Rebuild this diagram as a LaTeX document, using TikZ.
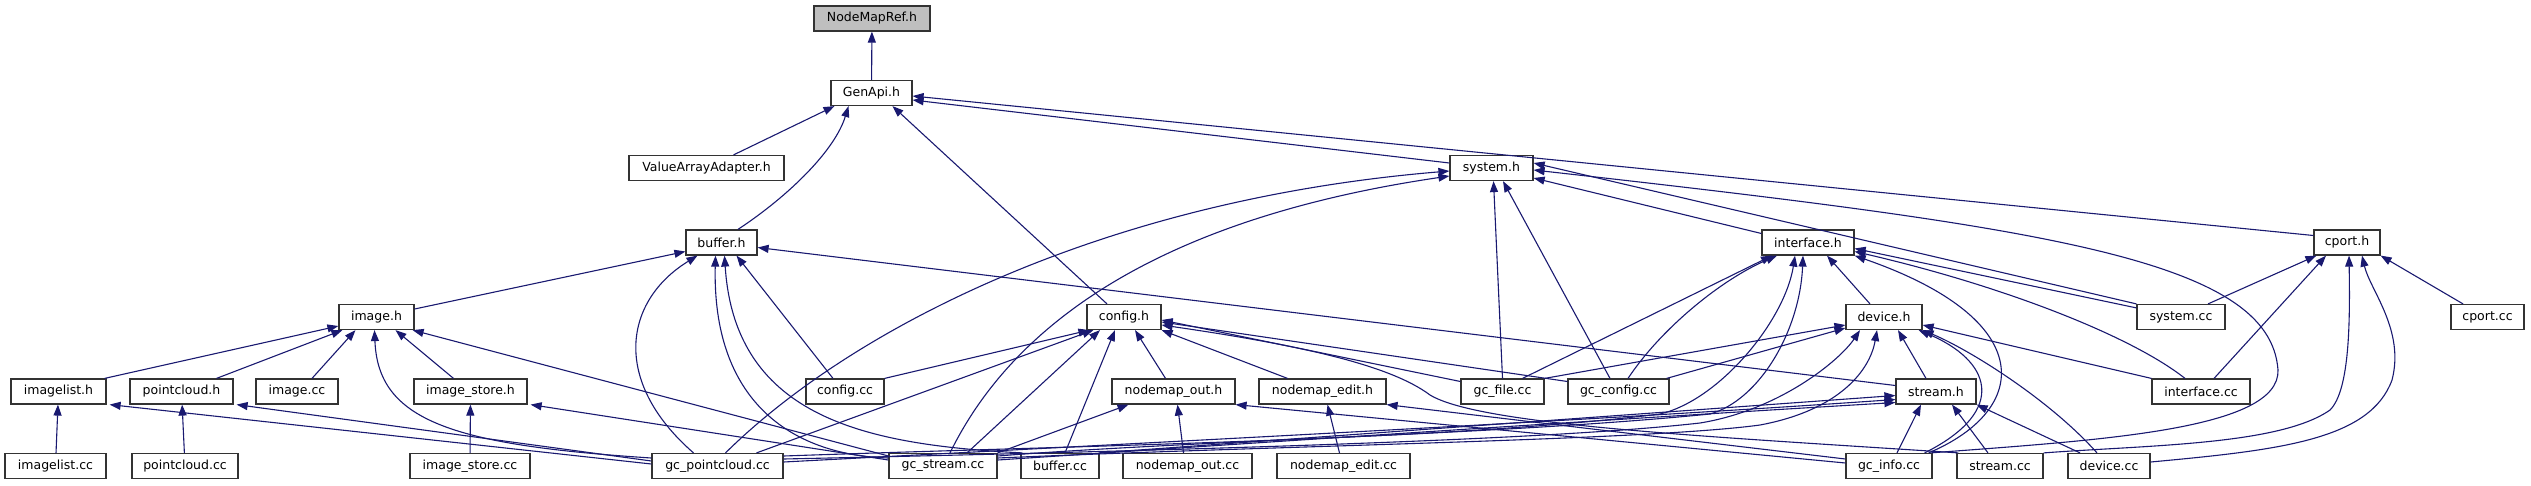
\documentclass[tikz,border=0pt]{standalone}
\usepackage{fontspec}
\setmainfont{DejaVu Sans}
\usetikzlibrary{arrows.meta}
\definecolor{edgec}{HTML}{191970}
\definecolor{hilite}{HTML}{BFBFBF}
\tikzset{
  box/.style={draw=black!80, line width=1.2pt, fill=white, minimum height=25pt, inner sep=0pt, font=\fontsize{12.5}{14}\selectfont},
  dep/.style={draw=edgec, line width=1.1pt, -{Triangle[length=11pt,width=8pt]}}
}
\begin{document}
\begin{tikzpicture}[x=1pt,y=-1pt]
\useasboundingbox (0,0) rectangle (2531,485);
% row 1-5
\node[box,fill=hilite,minimum width=116pt] (nmr) at (872,18.5) {NodeMapRef.h};
\node[box,minimum width=81pt] (genapi) at (871.5,93) {GenApi.h};
\node[box,minimum width=155pt] (vaa) at (706.5,168) {ValueArrayAdapter.h};
\node[box,minimum width=83pt] (sysh) at (1491.5,168) {system.h};
\node[box,minimum width=71pt] (bufh) at (721.5,242.5) {buffer.h};
\node[box,minimum width=92pt] (ifh) at (1808,242.5) {interface.h};
\node[box,minimum width=66pt] (cph) at (2347,242.5) {cport.h};
\node[box,minimum width=75pt] (imgh) at (376.5,317) {image.h};
\node[box,minimum width=74pt] (cfgh) at (1124,317) {config.h};
\node[box,minimum width=76pt] (devh) at (1884,317) {device.h};
\node[box,minimum width=88pt] (syscc) at (2181,317) {system.cc};
\node[box,minimum width=73pt] (cpcc) at (2487.5,317) {cport.cc};
% row 6
\node[box,minimum width=95pt] (imagelisth) at (58.5,391.5) {imagelist.h};
\node[box,minimum width=103pt] (pointcloudh) at (181.5,391.5) {pointcloud.h};
\node[box,minimum width=82pt] (imagecc) at (297,391.5) {image.cc};
\node[box,minimum width=113pt] (imagestoreh) at (470.5,391.5) {image\_store.h};
\node[box,minimum width=78pt] (configcc) at (845,391.5) {config.cc};
\node[box,minimum width=123pt] (nodemapouth) at (1173.5,391.5) {nodemap\_out.h};
\node[box,minimum width=127pt] (nodemapedith) at (1322.5,391.5) {nodemap\_edit.h};
\node[box,minimum width=83pt] (gcfilecc) at (1502.5,391.5) {gc\_file.cc};
\node[box,minimum width=101pt] (gcconfigcc) at (1618.5,391.5) {gc\_config.cc};
\node[box,minimum width=80pt] (streamh) at (1936,391.5) {stream.h};
\node[box,minimum width=98pt] (interfacecc) at (2201,391.5) {interface.cc};
% row 7
\node[box,minimum width=101pt] (imagelistcc) at (55.5,466) {imagelist.cc};
\node[box,minimum width=106pt] (pointcloudcc) at (185,466) {pointcloud.cc};
\node[box,minimum width=120pt] (imagestorecc) at (470,466) {image\_store.cc};
\node[box,minimum width=131pt] (gcpccc) at (717.5,466) {gc\_pointcloud.cc};
\node[box,minimum width=108pt] (gcstreamcc) at (943,466) {gc\_stream.cc};
\node[box,minimum width=78pt] (buffercc) at (1060,466) {buffer.cc};
\node[box,minimum width=129pt] (nodemapoutcc) at (1187.5,466) {nodemap\_out.cc};
\node[box,minimum width=133pt] (nodemapeditcc) at (1343.5,466) {nodemap\_edit.cc};
\node[box,minimum width=86pt] (gcinfocc) at (1889,466) {gc\_info.cc};
\node[box,minimum width=86pt] (streamcc) at (2000,466) {stream.cc};
\node[box,minimum width=82pt] (devicecc) at (2109,466) {device.cc};

% GenApi.h / NodeMapRef.h
\draw[dep] (genapi) -- (nmr);
\draw[dep] ([xshift=27pt]vaa.north) -- ([xshift=-37pt]genapi.south);
\draw[dep] ([xshift=16.5pt]bufh.north) .. controls (790,195) and (835,150) .. ([xshift=-23pt]genapi.south);
\draw[dep] ([xshift=-17pt]cfgh.north) -- ([xshift=21pt]genapi.south);
\draw[dep] ([yshift=5pt]sysh.west) -- ([yshift=-7pt]genapi.east);
\draw[dep] ([yshift=7pt]cph.west) -- ([yshift=-3pt]genapi.east);

% buffer.h
\draw[dep] ([yshift=8pt]imgh.east) -- ([yshift=-9pt]bufh.west);
\draw[dep] ([xshift=-24pt]gcpccc.north) .. controls (610,380) and (625,300) .. ([xshift=-24pt]bufh.south);
\draw[dep] ([yshift=8pt]gcstreamcc.west) .. controls (790,455) and (712,400) .. ([xshift=-6pt]bufh.south);
\draw[dep] ([xshift=2pt]buffercc.north west) .. controls (870,445) and (735,420) .. ([xshift=3pt]bufh.south);
\draw[dep] ([xshift=-12pt]configcc.north) -- ([xshift=15pt]bufh.south);
\draw[dep] ([yshift=6pt]streamh.west) -- ([yshift=-5pt]bufh.east);

% image.h
\draw[dep] ([xshift=-2pt]imagelisth.north east) -- ([yshift=-9pt]imgh.west);
\draw[dep] ([xshift=35pt]pointcloudh.north) -- ([xshift=4pt]imgh.south west);
\draw[dep] ([xshift=15pt]imagecc.north) -- ([xshift=-21pt]imgh.south);
\draw[dep] ([yshift=8pt]gcpccc.west) .. controls (450,445) and (378,420) .. ([xshift=-2pt]imgh.south);
\draw[dep] ([xshift=-17pt]imagestoreh.north) -- ([xshift=19pt]imgh.south);
\draw[dep] ([yshift=10pt]gcstreamcc.west) -- ([xshift=-2pt]imgh.south east);

% imagelist.h, pointcloud.h, image_store.h
\draw[dep] (imagelistcc) -- (imagelisth);
\draw[dep] ([yshift=2pt]gcpccc.west) -- ([xshift=3pt]imagelisth.south east);
\draw[dep] (pointcloudcc) -- (pointcloudh);
\draw[dep] ([yshift=5pt]gcpccc.west) -- ([xshift=3pt]pointcloudh.south east);
\draw[dep] (imagestorecc) -- (imagestoreh);
\draw[dep] ([yshift=6pt]gcstreamcc.west) -- ([xshift=3pt]imagestoreh.south east);

% system.h
\draw[dep] ([xshift=8pt]gcpccc.north) .. controls (850,330) and (1100,200) .. ([yshift=-3pt]sysh.west);
\draw[dep] ([xshift=7pt]gcstreamcc.north) .. controls (1010,330) and (1150,220) .. ([yshift=-8pt]sysh.west);
\draw[dep] (gcfilecc.north) -- ([xshift=2pt]sysh.south);
\draw[dep] ([xshift=-8.5pt]gcconfigcc.north) -- ([xshift=11.5pt]sysh.south);
\draw[dep] ([yshift=9pt]ifh.west) -- ([yshift=-10pt]sysh.east);
\draw[dep] (syscc.north west) -- ([yshift=5pt]sysh.east);
\draw[dep] ([xshift=-2pt]gcinfocc.north east) .. controls (2100,440) and (2280,430) .. (2278,370)
   .. controls (2270,260) and (2050,228) .. ([yshift=-2pt]sysh.east);

% interface.h
\draw[dep] ([xshift=20pt]gcfilecc.north) -- ([xshift=-36pt]ifh.south);
\draw[dep] ([xshift=9.5pt]gcconfigcc.north) .. controls (1660,330) and (1720,280) .. ([xshift=-31pt]ifh.south);
\draw[dep] ([yshift=10pt]gcpccc.east) .. controls (1100,445) and (1450,440) .. (1660,414)
   .. controls (1720,400) and (1785,320) .. ([xshift=-13pt]ifh.south);
\draw[dep] ([yshift=10pt]gcstreamcc.east) .. controls (1200,440) and (1500,435) .. (1710,414)
   .. controls (1760,400) and (1800,330) .. ([xshift=-5pt]ifh.south);
\draw[dep] ([xshift=-14pt]devh.north) -- ([xshift=19pt]ifh.south);
\draw[dep] ([yshift=-4pt]syscc.north west) -- ([yshift=-6pt]ifh.east);
\draw[dep] ([xshift=-16pt]interfacecc.north) .. controls (2130,335) and (2000,285) .. ([yshift=-9pt]ifh.east);
\draw[dep] ([xshift=-4pt]gcinfocc.north east) .. controls (2030,410) and (2040,320) .. (ifh.south east);

% device.h
\draw[dep] (gcfilecc.north east) -- ([yshift=-8pt]devh.west);
\draw[dep] ([xshift=-3pt]gcconfigcc.north east) -- ([yshift=-11pt]devh.west);
\draw[dep] ([yshift=7pt]gcpccc.east) .. controls (1200,450) and (1550,440) .. (1700,423)
   .. controls (1780,410) and (1840,360) .. ([xshift=-24pt]devh.south);
\draw[dep] ([yshift=8pt]gcstreamcc.east) .. controls (1300,445) and (1650,440) .. (1760,425)
   .. controls (1840,410) and (1870,370) .. ([xshift=-7pt]devh.south);
\draw[dep] ([xshift=-10pt]streamh.north) -- ([xshift=14pt]devh.south);
\draw[dep] (interfacecc.north west) -- ([yshift=-8pt]devh.east);
\draw[dep] ([xshift=-8pt]gcinfocc.north east) .. controls (2010,410) and (1990,360) .. ([xshift=-4pt]devh.south east);
\draw[dep] ([xshift=-12pt]devicecc.north) .. controls (2050,400) and (1970,350) .. (devh.south east);

% stream.h
\draw[dep] ([yshift=4pt]gcpccc.east) .. controls (1200,440) and (1600,420) .. ([yshift=-8pt]streamh.west);
\draw[dep] ([yshift=6pt]gcstreamcc.east) .. controls (1300,440) and (1600,420) .. ([yshift=-11pt]streamh.west);
\draw[dep] ([xshift=-1pt]buffercc.north east) -- ([yshift=-4pt]streamh.west);
\draw[dep] ([xshift=8pt]gcinfocc.north) -- ([xshift=-15pt]streamh.south);
\draw[dep] ([xshift=-12pt]streamcc.north) -- ([xshift=16pt]streamh.south);
\draw[dep] ([xshift=-29pt]devicecc.north) -- (streamh.south east);

% config.h
\draw[dep] (configcc.north east) -- ([xshift=3pt]cfgh.south west);
\draw[dep] ([xshift=39pt]gcpccc.north) -- ([xshift=7pt]cfgh.south west);
\draw[dep] ([xshift=24pt]gcstreamcc.north) -- ([xshift=-24pt]cfgh.south);
\draw[dep] ([xshift=5pt]buffercc.north) -- ([xshift=-9pt]cfgh.south);
\draw[dep] ([xshift=-8pt]nodemapouth.north) -- ([xshift=11pt]cfgh.south);
\draw[dep] ([xshift=-35pt]nodemapedith.north) -- (cfgh.south east);
\draw[dep] ([yshift=10pt]gcfilecc.west) -- ([yshift=-3pt]cfgh.east);
\draw[dep] ([yshift=10pt]gcconfigcc.west) -- ([yshift=-5pt]cfgh.east);
\draw[dep] ([xshift=2pt]streamcc.north west) .. controls (1700,436) and (1480,425) .. (1430,395)
   .. controls (1390,365) and (1300,345) .. ([yshift=-8pt]cfgh.east);

% nodemap_out.h / nodemap_edit.h
\draw[dep] (gcstreamcc.north east) -- ([xshift=-45pt]nodemapouth.south);
\draw[dep] ([xshift=-4pt]nodemapoutcc.north) -- ([xshift=4pt]nodemapouth.south);
\draw[dep] ([yshift=3pt]gcinfocc.west) -- (nodemapouth.south east);
\draw[dep] ([xshift=-4pt]nodemapeditcc.north) -- ([xshift=5pt]nodemapedith.south);
\draw[dep] ([yshift=7pt]gcinfocc.west) -- (nodemapedith.south east);

% cport.h
\draw[dep] ([xshift=27pt]syscc.north) -- ([xshift=3pt]cph.south west);
\draw[dep] ([xshift=13pt]interfacecc.north) -- ([xshift=-21pt]cph.south);
\draw[dep] (streamcc.north east) .. controls (2150,445) and (2280,445) .. (2330,410)
   .. controls (2350,390) and (2350,320) .. ([xshift=2pt]cph.south);
\draw[dep] ([yshift=4pt]devicecc.east) .. controls (2280,450) and (2370,440) .. (2392,380)
   .. controls (2405,330) and (2370,290) .. ([xshift=15pt]cph.south);
\draw[dep] ([xshift=-24.5pt]cpcc.north) -- (cph.south east);
\end{tikzpicture}
\end{document}
